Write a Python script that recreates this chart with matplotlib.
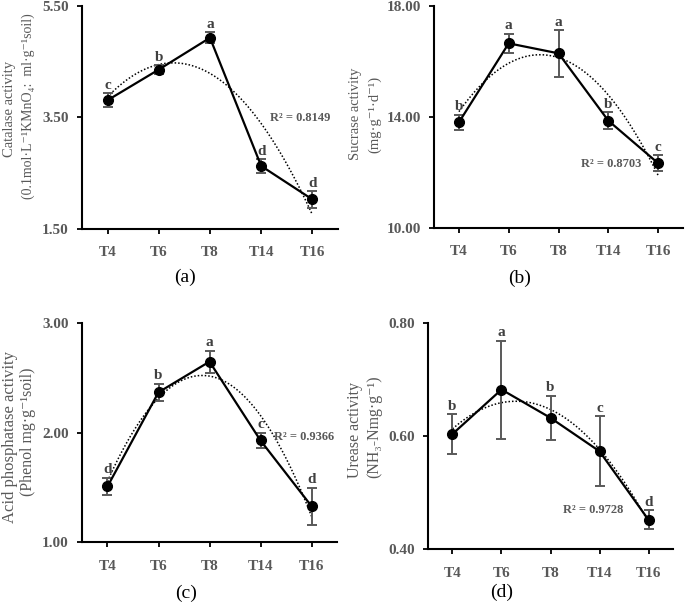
import numpy as np
import matplotlib
matplotlib.use("Agg")
import matplotlib.pyplot as plt

plt.rcParams['font.family'] = ['Liberation Serif', 'DejaVu Serif']

categories = ["T4", "T6", "T8", "T14", "T16"]

catalase = [3.81, 4.36, 4.93, 2.63, 2.03]
catalase_err = [0.13, 0.08, 0.10, 0.12, 0.15]
catalase_letters = ["c", "b", "a", "d", "d"]

sucrase = [13.80, 16.64, 16.28, 13.86, 12.33]
sucrase_err = [0.28, 0.34, 0.84, 0.30, 0.29]
sucrase_letters = ["b", "a", "a", "b", "c"]

acidp = [1.51, 2.37, 2.65, 1.93, 1.33]
acidp_err = [0.08, 0.08, 0.10, 0.07, 0.17]
acidp_letters = ["d", "b", "a", "c", "d"]

urease = [0.6035, 0.682, 0.632, 0.573, 0.452]
urease_err = [0.035, 0.0865, 0.039, 0.062, 0.017]
urease_letters = ["b", "a", "b", "c", "d"]

r2_texts = ["R² = 0.8149", "R² = 0.8703", "R² = 0.9366", "R² = 0.9728"]

GREY = "#595959"

fig = plt.figure(figsize=(6.85, 6.05), dpi=100)

panels = [
    dict(rect=[0.1197, 0.6215, 0.3737, 0.3686], vals=catalase, err=catalase_err,
         letters=catalase_letters, ylim=(1.5, 5.5), yticks=[1.5, 3.5, 5.5],
         r2=r2_texts[0], r2pos=(3.76, 3.49), tag="(a)", tagpos=(185, 277),
         lab1="Catalase activity", lab1pos=(10, 109), lab1size=10.5,
         lab2="(0.1mol·L⁻¹KMnO₄:  ml·g⁻¹soil)", lab2pos=(28, 106), lab2size=10),
    dict(rect=[0.6336, 0.6231, 0.3635, 0.3678], vals=sucrase, err=sucrase_err,
         letters=sucrase_letters, ylim=(10, 18), yticks=[10, 14, 18],
         r2=r2_texts[1], r2pos=(3.06, 12.3), tag="(b)", tagpos=(520, 278),
         lab1="Sucrase activity", lab1pos=(355, 114), lab1size=10.5,
         lab2="(mg·g⁻¹·d⁻¹)", lab2pos=(375, 114), lab2size=10.5),
    dict(rect=[0.1197, 0.1036, 0.3723, 0.3620], vals=acidp, err=acidp_err,
         letters=acidp_letters, ylim=(1.0, 3.0), yticks=[1.0, 2.0, 3.0],
         r2=r2_texts[2], r2pos=(3.86, 1.96), tag="(c)", tagpos=(186, 593),
         lab1="Acid phosphatase activity", lab1pos=(10, 437), lab1size=12,
         lab2="(Phenol mg·g⁻¹soil)", lab2pos=(28, 432), lab2size=11.4),
    dict(rect=[0.6248, 0.0921, 0.3577, 0.3745], vals=urease, err=urease_err,
         letters=urease_letters, ylim=(0.4, 0.8), yticks=[0.4, 0.6, 0.8],
         r2=r2_texts[3], r2pos=(2.88, 0.469), tag="(d)", tagpos=(502, 592),
         lab1="Urease activity", lab1pos=(355, 430), lab1size=11.5,
         lab2="(NH₃-Nmg·g⁻¹)", lab2pos=(374, 427), lab2size=11.4),
]

W, H = 685, 605
x = np.arange(len(categories))
xs = np.linspace(0, 4, 200)

for p in panels:
    ax = fig.add_axes(p["rect"])
    vals = np.array(p["vals"])
    err = np.array(p["err"])
    coef = np.polyfit(x, vals, 2)
    ax.plot(xs, np.polyval(coef, xs), color="black", lw=1.1, linestyle=(0, (1, 1.3)), zorder=2)
    ax.errorbar(x, vals, yerr=err, fmt="none", ecolor=GREY, elinewidth=1.4,
                capsize=3.5, capthick=1.4, zorder=3)
    ax.plot(x, vals, color="black", lw=1.6, marker="o", markersize=7, zorder=4)
    for xi, v, e, l in zip(x, vals, err, p["letters"]):
        ax.annotate(l, (xi, v + e), xytext=(0, 1), textcoords="offset points",
                    ha="center", va="bottom", fontsize=11, fontweight="bold", color="#404040")
    ax.text(p["r2pos"][0], p["r2pos"][1], p["r2"], ha="center", va="center",
            fontsize=9, fontweight="bold", color=GREY)
    ax.set_xlim(-0.5, 4.5)
    ax.set_ylim(*p["ylim"])
    ax.set_xticks(x)
    ax.set_xticklabels(categories)
    ax.set_yticks(p["yticks"])
    ax.set_yticklabels([f"{t:.2f}" for t in p["yticks"]])
    for lab in ax.get_xticklabels() + ax.get_yticklabels():
        lab.set_fontweight("bold")
        lab.set_color(GREY)
        lab.set_fontsize(11)
    ax.tick_params(axis="both", direction="out", length=3.5, width=1.3, colors="black",
                   labelcolor=GREY)
    ax.tick_params(axis="x", pad=9)
    ax.tick_params(axis="y", pad=6)
    for s in ["top", "right"]:
        ax.spines[s].set_visible(False)
    for s in ["left", "bottom"]:
        ax.spines[s].set_linewidth(1.5)
    ax.patch.set_alpha(0)

    fig.text(p["lab1pos"][0] / W, 1 - p["lab1pos"][1] / H, p["lab1"], rotation=90,
             ha="center", va="center", fontsize=p["lab1size"], color=GREY)
    fig.text(p["lab2pos"][0] / W, 1 - p["lab2pos"][1] / H, p["lab2"], rotation=90,
             ha="center", va="center", fontsize=p["lab2size"], color=GREY)
    fig.text(p["tagpos"][0] / W, 1 - p["tagpos"][1] / H, p["tag"], ha="center",
             va="center", fontsize=14, color="black")

fig.savefig("out.png", dpi=100)
